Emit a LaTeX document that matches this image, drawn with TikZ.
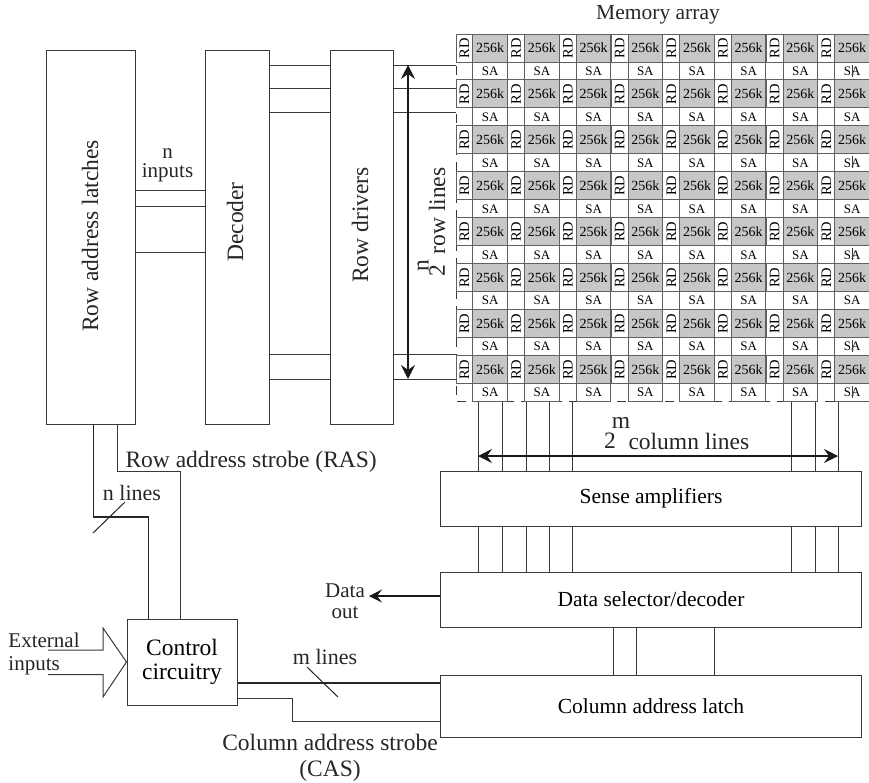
\documentclass[tikz,border=0pt]{standalone}
\usepackage{fontspec}
\setmainfont{Liberation Serif}
\usetikzlibrary{arrows.meta, math}
\newcommand{\fsz}[1]{\fontsize{#1}{#1}\selectfont}
\colorlet{inkgray}{black!78}
\colorlet{cellgray}{black!22}

\begin{document}
\begin{tikzpicture}[x=1pt,y=-1pt,line width=1pt,
  block/.style={draw=inkgray,fill=white,inner sep=0pt,font=\fsz{21.5},align=center},
  tallblock/.style={block,minimum width=#1,minimum height=374pt},
  widelabel/.style={inner sep=0pt,font=\fsz{23.5},align=center,text=black!85},
  cell/.style={draw=inkgray!80,inner sep=0pt},
  bus/.style={draw=black!85,line width=1.8pt},
  wire/.style={draw=inkgray},
  dimarrow/.style={{Stealth[length=14pt,width=14pt,inset=5pt]}-{Stealth[length=14pt,width=14pt,inset=5pt]},line width=1.1pt,draw=black!90}]
\useasboundingbox (0,0) rectangle (869,782);

% memory array
\draw[wire,dashed,dash pattern=on 9pt off 7pt] (456,34) -- (456,401) -- (869,401);
\foreach \row in {0,...,7}{
 \foreach \col in {0,...,7}{
  \tikzmath{\xa=456+51.7*\col; \ya=34+45.95*\row;}
  \node[cell,fill=white,minimum width=17pt,minimum height=28pt,font=\fsz{14.5}] (rd\row\col) at (\xa+8.5,\ya+14) {\rotatebox{90}{RD}};
  \node[cell,fill=cellgray,minimum width=34.5pt,minimum height=28pt,font=\fsz{14}] (mem\row\col) at (\xa+34.2,\ya+14) {256k};
  \node[cell,fill=white,minimum width=34.5pt,minimum height=18pt,font=\fsz{13}] (sa\row\col) at (\xa+34.2,\ya+37) {SA};
 }
}
\foreach \row in {0,2,4,6,7}{
 \draw[wire,line width=0.6pt] (sa\row7.north) ++(0,3) -- +(0,12);
}
\node[widelabel,font=\fsz{21.5}] (arraylabel) at (658,15) {Memory array};

% row side
\node[tallblock=89pt] (latches) at (90.5,237) {};
\node[tallblock=64pt] (decoder) at (237,237) {};
\node[tallblock=63pt] (drivers) at (361.5,237) {};
\node[widelabel,rotate=90] (latcheslabel) at (90,236) {Row address latches};
\node[widelabel,rotate=90] (decoderlabel) at (235,222) {Decoder};
\node[widelabel,rotate=90] (driverslabel) at (360,225) {Row drivers};

\foreach \y in {190,206,252}{
 \draw[wire] (latches.east |- 0,\y) -- (decoder.west |- 0,\y);
}
\foreach \y in {65,88,112,354,379}{
 \draw[wire] (decoder.east |- 0,\y) -- (drivers.west |- 0,\y);
 \draw[wire] (drivers.east |- 0,\y) -- (rd00.west |- 0,\y);
}
\node[widelabel,font=\fsz{21},align=center] (ninputs) at (167.5,165) {n\\[-2pt]inputs};

\coordinate (rowtop) at (408,65);
\coordinate (rowbot) at (408,379);
\draw[dimarrow] (rowtop) -- (rowbot);
\node[widelabel,rotate=90,anchor=east] (rowlabel) at (437,167) {row lines};
\node[widelabel,rotate=90] (rowtwo) at (437,271) {2};
\node[widelabel,rotate=90] (rown) at (423,266) {n};

% column side
\node[block,minimum width=421pt,minimum height=55pt] (sense) at (651,498.5) {Sense amplifiers};
\node[block,minimum width=421pt,minimum height=55pt] (selector) at (651,599.5) {Data selector/decoder};
\node[block,minimum width=421pt,minimum height=62pt] (latch) at (651,706) {Column address latch};

\foreach \x in {478,502,526,549,572.5,791.5,815,838}{
 \draw[wire] (\x,0 |- sa70.south) -- (\x,0 |- sense.north);
 \draw[wire] (\x,0 |- sense.south) -- (\x,0 |- selector.north);
}
\foreach \x in {613,636,714}{
 \draw[wire] (\x,0 |- selector.south) -- (\x,0 |- latch.north);
}
\coordinate (colleft) at (478,456);
\coordinate (colright) at (838,456);
\draw[dimarrow] (colleft) -- (colright);
\node[widelabel] (coltwo) at (610,441) {2};
\node[widelabel] (colm) at (621,423) {m};
\node[widelabel,anchor=west] (collabel) at (628,441) {column lines};

\node[widelabel,font=\fsz{21},align=center] (dataout) at (345,601) {Data\\out};
\coordinate (dataend) at (369,596);
\draw[wire,-{Stealth[length=13pt,width=13pt,inset=5pt]},line width=1.1pt,draw=black!90] (selector.west |- dataend) -- (dataend);

% control
\node[block,font=\fsz{23.5},minimum width=110pt,minimum height=86pt] (control) at (182,662) {Control\\[1pt]circuitry};

\draw[bus] (93.5,0 |- latches.south) -- (93.5,517) -- (148.5,517) -- (148.5,0 |- control.north);
\draw[wire] (117,0 |- latches.south) -- (117,471) -- (180,471) -- (180,0 |- control.north);
\coordinate (nslasta) at (93,533);
\coordinate (nslastb) at (125,502);
\draw[wire,draw=black!85] (nslasta) -- (nslastb);
\node[widelabel,font=\fsz{22}] (nlines) at (132,493) {n lines};
\node[widelabel,anchor=west] (raslabel) at (125,462) {Row address strobe (RAS)};

\draw[bus] (control.east |- 0,682.7) -- (latch.west |- 0,682.7);
\draw[wire] (control.east |- 0,698) -- (292,698) -- (292,721) -- (latch.west |- 0,721);
\coordinate (mslasta) at (307,667);
\coordinate (mslastb) at (338,697);
\draw[wire,draw=black!85] (mslasta) -- (mslastb);
\node[widelabel,font=\fsz{22}] (mlines) at (325,657) {m lines};

\node[widelabel] (caslabel) at (330,758) {Column address strobe\\[3pt](CAS)};

% external inputs
\draw[wire] (48,650) -- (103,650) -- (103,628) -- (control.west) -- (103,697) -- (103,674.5) -- (48,674.5);
\node[widelabel,font=\fsz{21},align=left,anchor=west] (extlabel) at (8,654) {External\\[2pt]inputs};

\end{tikzpicture}
\end{document}
